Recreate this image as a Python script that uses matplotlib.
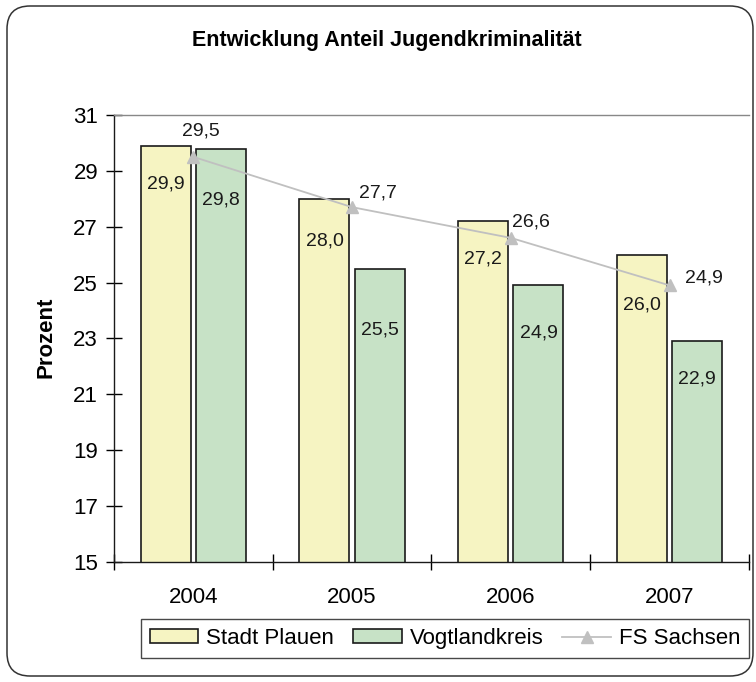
import numpy as np
import matplotlib.pyplot as plt
from matplotlib.patches import FancyBboxPatch

plt.rcParams['font.family'] = ['Liberation Sans', 'DejaVu Sans']

# Daten
jahre = ["2004", "2005", "2006", "2007"]
stadt_plauen = [29.9, 28.0, 27.2, 26.0]
vogtlandkreis = [29.8, 25.5, 24.9, 22.9]
fs_sachsen = [29.5, 27.7, 26.6, 24.9]

# Lage der Beschriftungen (Pixel relativ zum Wert), wie im Original verschoben
off_plauen = [-38, -42, -38, -50]
off_vogtland = [-51, -61, -48, -38]
off_sachsen = [(7, 26), (26, 14), (20, 16), (34, 7)]

def fmt(v):
    return f"{v:.1f}".replace(".", ",")

fig = plt.figure(figsize=(7.56, 6.82), dpi=100)

# Rahmen mit runden Ecken
rahmen = FancyBboxPatch((0.07, 0.06), 7.46, 6.70,
                        boxstyle="round,pad=0,rounding_size=0.23",
                        transform=fig.dpi_scale_trans, fill=False,
                        edgecolor='#333333', linewidth=1.1)
fig.patches.append(rahmen)

ax = fig.add_axes([0.1508, 0.1760, 0.8399, 0.6554])

x = np.arange(len(jahre))
breite = 0.315
versatz = 0.174

b1 = ax.bar(x - versatz, stadt_plauen, breite, bottom=0, color='#F6F4C2',
            edgecolor='#1a1a1a', linewidth=1.2, label='Stadt Plauen')
b2 = ax.bar(x + versatz, vogtlandkreis, breite, bottom=0, color='#C7E2C6',
            edgecolor='#1a1a1a', linewidth=1.2, label='Vogtlandkreis')
linie, = ax.plot(x, fs_sachsen, color='#C0C0C0', linewidth=1.3, marker='^',
                 markersize=9, markerfacecolor='#C0C0C0',
                 markeredgecolor='#C0C0C0', label='FS Sachsen')

# Beschriftungen
for xi, v, o in zip(x, stadt_plauen, off_plauen):
    ax.annotate(fmt(v), (xi - versatz, v), xytext=(0, o),
                textcoords='offset pixels', ha='center', va='center',
                fontsize=14, color='#1a1a1a')
for xi, v, o in zip(x, vogtlandkreis, off_vogtland):
    ax.annotate(fmt(v), (xi + versatz, v), xytext=(0, o),
                textcoords='offset pixels', ha='center', va='center',
                fontsize=14, color='#1a1a1a')
for xi, v, (dx, dy) in zip(x, fs_sachsen, off_sachsen):
    ax.annotate(fmt(v), (xi, v), xytext=(dx, dy),
                textcoords='offset pixels', ha='center', va='center',
                fontsize=14, color='#1a1a1a')

ax.set_ylim(15, 31)
ax.set_yticks(np.arange(15, 32, 2))
ax.set_xlim(-0.5, 3.5)
ax.set_xticks(x)
ax.set_xticklabels(jahre)
ax.set_xticks(np.arange(-0.5, 4, 1), minor=True)
ax.tick_params(axis='x', which='major', length=0, labelsize=16, pad=18)
ax.tick_params(axis='x', which='minor', length=11, direction='inout', width=1)
ax.tick_params(axis='y', length=11, direction='inout', width=1, labelsize=16, pad=6)

for s in ['left', 'bottom']:
    ax.spines[s].set_color('#1a1a1a')
    ax.spines[s].set_linewidth(1.0)
ax.spines['right'].set_visible(False)
ax.spines['top'].set_color('#888888')
ax.spines['top'].set_linewidth(1.0)

ax.set_ylabel('Prozent', fontsize=16, fontweight='bold', va='center')
ax.yaxis.set_label_coords(-0.107, 0.503)

fig.text(0.512, 0.940, 'Entwicklung Anteil Jugendkriminalität', ha='center',
         va='center', fontsize=15.5, fontweight='bold')

leg = fig.legend(handles=[b1, b2, linie], loc='center',
                 bbox_to_anchor=(0.5886, 0.0638), ncol=3, frameon=True,
                 fancybox=False, edgecolor='#1a1a1a', fontsize=16,
                 handlelength=2.2, handleheight=0.55, handletextpad=0.35,
                 columnspacing=0.85, borderpad=0.4, borderaxespad=0)
leg.get_frame().set_linewidth(1.0)

fig.savefig('out.png', dpi=100)
